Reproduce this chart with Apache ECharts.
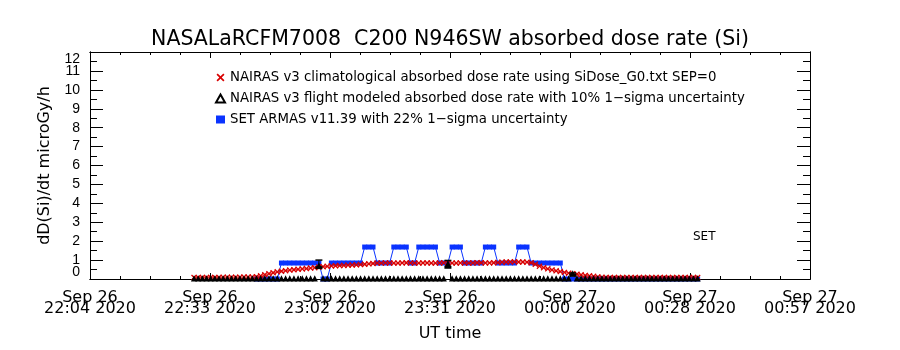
<!DOCTYPE html>
<html>
<head>
<meta charset="utf-8">
<script src="https://cdn.jsdelivr.net/npm/echarts@6/dist/echarts.min.js"></script>
<style>html,body{margin:0;padding:0;background:#fff;}#chart{width:900px;height:350px;}</style>
</head>
<body>
<div id="chart"></div>
<script>
// ---- data (time = minutes after Sep 26 22:04 UT) ----
const xTickLabels = ["Sep 26\n22:04 2020", "Sep 26\n22:33 2020", "Sep 26\n23:02 2020", "Sep 26\n23:31 2020",
                     "Sep 27\n00:00 2020", "Sep 27\n00:28 2020", "Sep 27\n00:57 2020"];
const xMin = 0, xMax = 173, xInterval = 173 / 6;
const yTickLabels = ["0","1","2","3","4","5","6","7","8","9","10","11","12"];

// NAIRAS climatological, one sample per minute starting at minute 25
const redStart = 25;
const redValues = [
  0.08,0.08,0.08,0.08,0.08,0.08,0.08,0.09,0.09,0.09,0.09,0.09,0.10,0.10,0.10,
  0.12,0.17,0.23,0.28,0.33,0.38,0.41,0.44,0.47,0.49,0.51,0.53,0.55,0.58,0.60,
  0.63,0.65,0.67,0.69,0.70,0.71,0.72,0.73,0.74,0.75,0.76,0.78,0.80,0.82,0.84,
  0.84,0.85,0.85,0.84,0.84,0.85,0.86,0.85,0.84,0.84,0.85,0.85,0.84,0.84,0.85,
  0.86,0.85,0.84,0.84,0.85,0.85,0.84,0.85,0.86,0.86,0.85,0.85,0.86,0.87,
  0.89,0.90,0.90,0.91,0.90,0.90,0.89,
  0.86,0.78,0.68,0.60,0.54,0.48,0.43,0.39,0.35,0.31,0.28,0.25,0.22,0.19,0.17,0.14,0.11,0.09,
  0.08,0.08,0.08,0.08,0.08,0.08,0.08,0.08,0.08,0.08,0.08,0.08,
  0.08,0.08,0.08,0.08,0.08,0.08,0.08,0.08,0.08,0.08,0.08
];

// SET ARMAS, one sample per minute starting at minute 40
const blueStart = 40;
const blueValues = [
  0,0,0,0,0,0,
  0.845,0.845,0.845,0.845,0.845,0.845,0.845,0.845,0.845,0.845,
  0,0,
  0.845,0.845,0.845,0.845,0.845,0.845,0.845,0.845,
  1.69,1.69,1.69,
  0.845,0.845,0.845,0.845,
  1.69,1.69,1.69,1.69,
  0.845,0.845,
  1.69,1.69,1.69,1.69,1.69,
  0.845,0.845,0.845,
  1.69,1.69,1.69,
  0.845,0.845,0.845,0.845,0.845,
  1.69,1.69,1.69,
  0.845,0.845,0.845,0.845,0.845,
  1.69,1.69,1.69,
  0.845,0.845,0.845,0.845,0.845,0.845,0.845,0.845,
  0,0,0,0,0,0,0,0,0,0,0,0,0,0,0,0,0,0,0,0,0,0,0,0,0,0,0,0,0,0,0,0,0
];

// NAIRAS flight modeled, one sample per minute starting at minute 25
const blackStart = 25;
const blackValues = [
  0,0,0,0,0,0,0,0,0,0,0,0,0,0,0,0,0,0,0,0,0,0,0,0,0,0,0,0,0,0,
  0.68,
  0,0,0,0,0,0,0,0,0,0,0,0,0,0,0,0,0,0,0,0,0,0,0,0,0,0,0,0,0,0,
  0.78,
  0,0,0,0,0,0,0,0,0,0,0,0,0,0,0,0,0,0,0,0,0,0,0,0,0,0,0,0,0,
  0.26,
  0,0,0,0,0,0,0,0,0,0,0,0,0,0,0,0,0,0,0,0,0,0,0,0,0,0,0,0,0,0
];
const errTimes = [55, 86, 116];
const errLow   = [0.60, 0.62, 0.20];
const errHigh  = [1.00, 0.98, 0.32];

const seriesNames = [
  "NAIRAS v3 climatological absorbed dose rate using SiDose_G0.txt SEP=0",
  "NAIRAS v3 flight modeled absorbed dose rate with 10% 1\u2212sigma uncertainty",
  "SET ARMAS v11.39 with 22% 1\u2212sigma uncertainty"
];

// ---- build ----
const toPairs = (start, vals) => vals.map((v, i) => [start + i, v]);
const xSym = 'path://M0,1.5L1.5,0L5,3.5L8.5,0L10,1.5L6.5,5L10,8.5L8.5,10L5,6.5L1.5,10L0,8.5L3.5,5Z';
const FONT = 'DejaVu Sans';
const gridRect = {left: 90, right: 90, top: 52, bottom: 71};
const yLabelStyle = {fontFamily: 'Liberation Sans', fontSize: 14, color: '#000'};

const chart = echarts.init(document.getElementById('chart'), null, {renderer: 'canvas'});
const blackLine = {color: '#000', width: 1};
function tickAxis(gridIndex, position, interval, len, min, max) {
  return {
    gridIndex: gridIndex, type: 'value', position: position, min: min, max: max, interval: interval,
    axisLine: {show: true, onZero: false, lineStyle: blackLine}, splitLine: {show: false}, axisLabel: {show: false},
    axisTick: {show: true, inside: true, length: len, lineStyle: blackLine},
    minorTick: {show: false}
  };
}
const xMajorBase = {
  gridIndex: 0, type: 'value', min: xMin, max: xMax, interval: xInterval,
  axisLine: {show: true, onZero: false, lineStyle: blackLine}, splitLine: {show: false},
  axisTick: {show: true, inside: true, length: 6, lineStyle: blackLine},
  minorTick: {show: false}
};
const yMajorBase = {
  gridIndex: 0, type: 'value', min: 0, max: 12, interval: 1,
  axisLine: {show: true, onZero: false, lineStyle: blackLine}, splitLine: {show: false},
  axisTick: {show: true, inside: true, length: 13, lineStyle: blackLine},
  minorTick: {show: false}
};

chart.setOption({
  backgroundColor: '#fff',
  animation: false,
  title: {
    text: 'NASALaRCFM7008  C200 N946SW absorbed dose rate (Si)',
    left: 'center', top: 24,
    textStyle: {fontFamily: FONT, fontSize: 20.5, fontWeight: 'normal', color: '#000'}
  },
  legend: {
    orient: 'vertical', left: 210, top: 66, itemGap: 8, itemWidth: 9, itemHeight: 8,
    textStyle: {fontFamily: FONT, fontSize: 13.3, color: '#000'},
    data: [
      {name: seriesNames[0], icon: xSym},
      {name: seriesNames[1], icon: 'emptyTriangle'},
      {name: seriesNames[2], icon: 'rect'}
    ],
    selectedMode: false
  },
  graphic: [{
    type: 'text', left: 693, top: 231,
    style: {text: 'SET', font: '12px "DejaVu Sans"', fill: '#000'}
  }],
  grid: [Object.assign({}, gridRect), Object.assign({}, gridRect), Object.assign({}, gridRect)],
  xAxis: [
    Object.assign({}, xMajorBase, {
      position: 'bottom',
      name: 'UT time', nameLocation: 'middle', nameGap: 47,
      nameTextStyle: {fontFamily: FONT, fontSize: 16, color: '#000'},
      axisLabel: {
        show: true, margin: 13, lineHeight: 11, fontFamily: FONT, fontSize: 16, color: '#000',
        showMinLabel: true, showMaxLabel: true,
        formatter: v => xTickLabels[Math.round((v - xMin) / xInterval)] || ''
      }
    }),
    Object.assign({}, xMajorBase, {position: 'top', axisLabel: {show: false}}),
    tickAxis(1, 'bottom', xInterval / 4, 3, xMin, xMax),
    tickAxis(1, 'top', xInterval / 4, 3, xMin, xMax),
    {gridIndex: 2, type: 'value', min: xMin, max: xMax, show: false}
  ],
  yAxis: [
    Object.assign({}, yMajorBase, {
      position: 'left',
      name: 'dD(Si)/dt microGy/h', nameLocation: 'middle', nameGap: 37,
      nameTextStyle: {fontFamily: FONT, fontSize: 16, color: '#000'},
      axisLabel: Object.assign({
        show: true, margin: 10, showMinLabel: false, showMaxLabel: false, hideOverlap: false,
        formatter: v => yTickLabels[Math.round(v)]
      }, yLabelStyle)
    }),
    Object.assign({}, yMajorBase, {position: 'right', axisLabel: {show: false}}),
    tickAxis(1, 'left', 0.5, 7, 0, 12),
    tickAxis(1, 'right', 0.5, 7, 0, 12),
    {
      gridIndex: 2, type: 'value', position: 'left', min: 0, max: 12, interval: 12,
      axisLine: {show: false}, axisTick: {show: false}, splitLine: {show: false},
      axisLabel: Object.assign({
        show: true, margin: 10, showMinLabel: true, showMaxLabel: true,
        verticalAlignMinLabel: 'bottom', verticalAlignMaxLabel: 'top',
        formatter: v => yTickLabels[Math.round(v)]
      }, yLabelStyle)
    }
  ],
  series: [
    {
      name: seriesNames[2], type: 'line', z: 2, xAxisIndex: 0, yAxisIndex: 0,
      data: toPairs(blueStart, blueValues),
      symbol: 'rect', symbolSize: [5, 5], showAllSymbol: true,
      itemStyle: {color: '#0a33ff'}, lineStyle: {color: '#0a33ff', width: 1}
    },
    {
      name: seriesNames[0], type: 'line', z: 3, xAxisIndex: 0, yAxisIndex: 0,
      data: toPairs(redStart, redValues),
      symbol: xSym, symbolSize: 6, showAllSymbol: true,
      itemStyle: {color: '#d80000'}, lineStyle: {color: '#d80000', width: 0.8}
    },
    {
      name: seriesNames[1], type: 'line', z: 4, xAxisIndex: 0, yAxisIndex: 0,
      data: toPairs(blackStart, blackValues),
      symbol: 'emptyTriangle', symbolSize: 3, showAllSymbol: true,
      itemStyle: {color: '#000', borderWidth: 0.8}, lineStyle: {width: 0, opacity: 0}
    },
    {
      name: 'err', type: 'custom', z: 5, xAxisIndex: 0, yAxisIndex: 0,
      data: errTimes.map((t, i) => [t, errLow[i], errHigh[i]]),
      encode: {x: 0, y: [1, 2]},
      renderItem: function (params, api) {
        const p1 = api.coord([api.value(0), api.value(1)]);
        const p2 = api.coord([api.value(0), api.value(2)]);
        const w = 3.5;
        return {type: 'group', children: [
          {type: 'line', shape: {x1: p1[0], y1: p1[1], x2: p2[0], y2: p2[1]}, style: {stroke: '#000', lineWidth: 1}},
          {type: 'line', shape: {x1: p1[0] - w, y1: p1[1], x2: p1[0] + w, y2: p1[1]}, style: {stroke: '#000', lineWidth: 3}},
          {type: 'line', shape: {x1: p2[0] - w, y1: p2[1], x2: p2[0] + w, y2: p2[1]}, style: {stroke: '#000', lineWidth: 1.5}}
        ]};
      }
    }
  ]
});
</script>
</body>
</html>
